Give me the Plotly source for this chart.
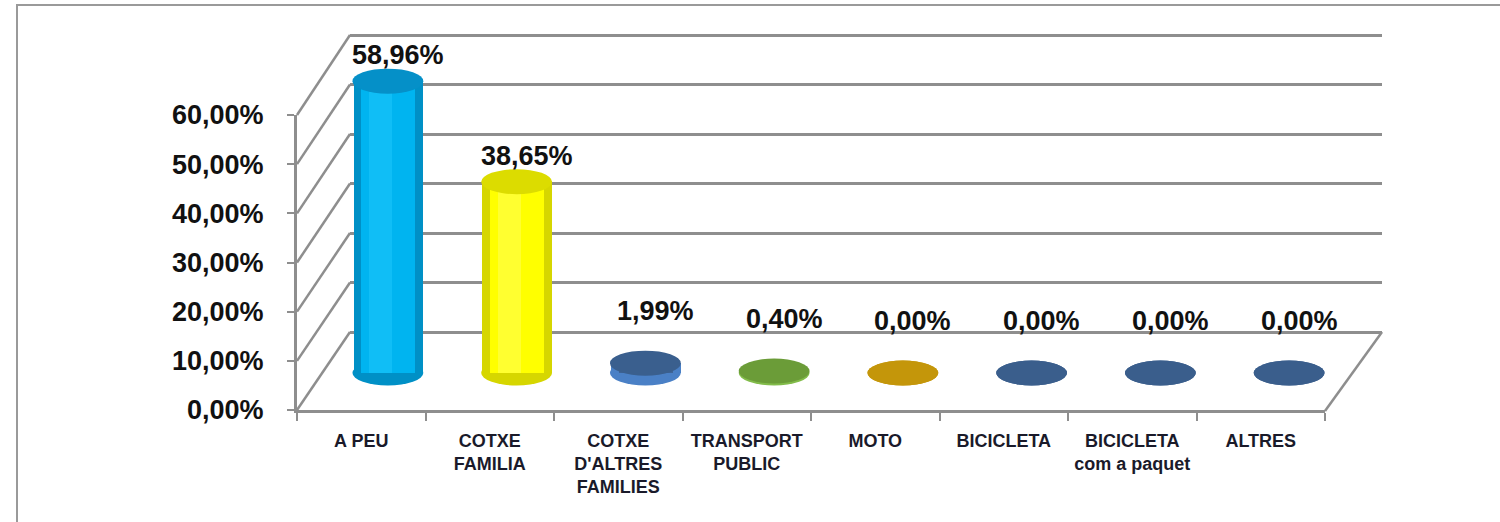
import plotly.graph_objects as go

# ---------------- data ----------------
categories = ["A PEU", "COTXE<br>FAMILIA", "COTXE<br>D'ALTRES<br>FAMILIES", "TRANSPORT<br>PUBLIC",
              "MOTO", "BICICLETA", "BICICLETA<br>com a paquet", "ALTRES"]
values = [58.96, 38.65, 1.99, 0.40, 0.00, 0.00, 0.00, 0.00]
main_colors = ["#00B4F0", "#FFFF00", "#3E6497", "#6EA03A", "#C8980A", "#3D6190", "#3D6190", "#3D6190"]
edge_colors = ["#0090C6", "#D6D600", "#4A80C6", "#82BC4A", "#D8A818", "#3D6190", "#3D6190", "#3D6190"]
light_colors = ["#10BEF6", "#FFFF30", "#3E6497", "#6EA03A", "#C8980A", "#3D6190", "#3D6190", "#3D6190"]
top_colors = ["#0590C8", "#DCDC00", "#3A5F8E", "#6B9C38", "#C4960A", "#3A5E8C", "#3A5E8C", "#3A5E8C"]
tick_values = [0, 10, 20, 30, 40, 50, 60]
tick_labels = ["0,00%", "10,00%", "20,00%", "30,00%", "40,00%", "50,00%", "60,00%"]

# ---------------- geometry (pixels) ----------------
W, H = 1500, 522
L, R, T, B = 297, 1382, 30, 412          # plot area
FX0, FX1, FY0, FY60 = 297, 1325, 410, 115  # front face
BX0, BX1, BY0, BY60 = 350, 1382, 332, 35   # back wall
MX0, MX1, MY0, MY60 = 323.5, 1353.5, 373, 76  # middle (bars)


def fx(px):
    return (px - L) / (R - L)


def fy(py):
    return (B - py) / (B - T)


s_mid = (MY0 - MY60) / 60.0
s_back = (BY0 - BY60) / 60.0
s_front = (FY0 - FY60) / 60.0
ylo, yhi = -7, 66
blo, bhi = -1, 61
GRID = "#8E8E8E"
FONT = "Liberation Sans, Arial, sans-serif"
n = len(categories)
idx = list(range(n))

fig = go.Figure()

# front axis subplot (x, y): carries the category labels
fig.add_trace(go.Scatter(x=categories, y=[0] * n, mode="markers", marker=dict(opacity=0),
                         hoverinfo="skip", showlegend=False, xaxis="x", yaxis="y"))
# back wall subplot (x2, y2)
fig.add_trace(go.Scatter(x=idx, y=[0] * n, mode="markers", marker=dict(opacity=0),
                         hoverinfo="skip", showlegend=False, xaxis="x2", yaxis="y2"))

# cylinders (x3, y3) : layered bars for shading
for width, cols, off in [(0.54, edge_colors, 0.0), (0.42, main_colors, 0.0), (0.18, light_colors, -0.06)]:
    fig.add_trace(go.Bar(x=[i + off for i in idx], y=values, width=width, marker=dict(color=cols, line=dict(width=0)),
                         showlegend=False, hoverinfo="skip", xaxis="x3", yaxis="y3"))

shapes = []
eh = 12.5 / s_mid  # ellipse half height in data units
ew = 0.275
for i, v in enumerate(values):
    shapes.append(dict(type="circle", xref="x3", yref="y3", x0=i - ew, x1=i + ew, y0=-eh, y1=eh,
                       fillcolor=edge_colors[i] if v > 0.3 else main_colors[i], line=dict(width=0), layer="between"))
    shapes.append(dict(type="circle", xref="x3", yref="y3", x0=i - ew, x1=i + ew, y0=v - eh, y1=v + eh,
                       fillcolor=top_colors[i], line=dict(width=0), layer="above"))

# left wall diagonals (gridlines on the side wall)
for t in tick_values:
    shapes.append(dict(type="line", xref="paper", yref="paper",
                       x0=fx(FX0), y0=fy(FY0 - t * s_front), x1=fx(BX0), y1=fy(BY0 - t * s_back),
                       line=dict(color=GRID, width=2.5), layer="below"))
# right floor edge
shapes.append(dict(type="line", xref="paper", yref="paper", x0=fx(FX1), y0=fy(FY0 + 1), x1=fx(BX1), y1=fy(BY0),
                   line=dict(color=GRID, width=2.5), layer="below"))
# outer chart frame
shapes.append(dict(type="rect", xref="paper", yref="paper", x0=fx(17), y0=fy(5), x1=fx(1520), y1=fy(540),
                   line=dict(color="#9A9A9A", width=2), fillcolor="rgba(0,0,0,0)", layer="below"))

annotations = []
for i, v in enumerate(values):
    label = f"{v:.2f}".replace(".", ",") + "%"
    annotations.append(dict(x=i, y=v, xref="x3", yref="y3", text=label, showarrow=False,
                            xshift=10, yshift=26 if v > 5 else 52, yanchor="middle",
                            font=dict(family=FONT, size=27, color="#111111", weight="bold")))

fig.update_layout(
    template="none",
    width=W, height=H,
    margin=dict(l=L, r=W - R, t=T, b=H - B, pad=0, autoexpand=False),
    paper_bgcolor="white", plot_bgcolor="rgba(0,0,0,0)",
    showlegend=False, barmode="overlay", bargap=0,
    shapes=shapes, annotations=annotations,
    xaxis=dict(domain=[fx(FX0), fx(FX1)], anchor="y", type="category", range=[-0.5, n - 0.5],
               automargin=False,
               showline=True, linecolor=GRID, linewidth=3, showgrid=False, zeroline=False,
               ticks="outside", tickson="boundaries", ticklen=8, tickwidth=2, tickcolor=GRID,
               ticklabelstandoff=12,
               tickfont=dict(family=FONT, size=18, color="#1A1A2A", weight="bold")),
    yaxis=dict(domain=[fy(FY0), fy(FY60)], anchor="x", range=[0, 60], automargin=False,
               showline=True, linecolor=GRID, linewidth=3, showgrid=False, zeroline=False,
               tickvals=tick_values, ticktext=tick_labels, ticks="outside", ticklen=7, tickwidth=2,
               tickcolor=GRID, ticklabelstandoff=18,
               tickfont=dict(family=FONT, size=27, color="#111111", weight="bold")),
    xaxis2=dict(domain=[fx(BX0), fx(BX1)], anchor="y2", range=[-0.5, n - 0.5], visible=False,
                automargin=False),
    yaxis2=dict(domain=[fy(BY0 - blo * s_back), fy(BY0 - bhi * s_back)], anchor="x2", range=[blo, bhi],
                tickvals=tick_values, automargin=False,
                showgrid=True, gridcolor=GRID, gridwidth=3, zeroline=False, showticklabels=False,
                ticks="", showline=False),
    xaxis3=dict(domain=[fx(MX0), fx(MX1)], anchor="y3", range=[-0.5, n - 0.5], visible=False,
                automargin=False),
    yaxis3=dict(domain=[fy(MY0 - ylo * s_mid), fy(MY0 - yhi * s_mid)], anchor="x3", range=[ylo, yhi],
                visible=False, automargin=False),
)

fig.write_html("out.html", config={"displayModeBar": False},
               post_script="document.body.style.margin='0';document.body.style.overflow='hidden';")
